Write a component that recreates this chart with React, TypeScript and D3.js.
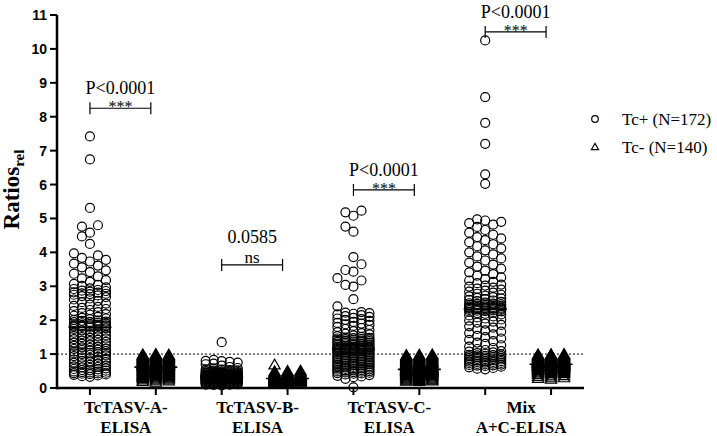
import React from "react";
import * as d3 from "d3";

// ---------- data ----------
const columns = ["A+", "A-", "B+", "B-", "C+", "C-", "M+", "M-"];
const groupLabels = [
  ["TcTASV-A-", "ELISA"],
  ["TcTASV-B-", "ELISA"],
  ["TcTASV-C-", "ELISA"],
  ["Mix", "A+C-ELISA"],
];
const legendLabels = ["Tc+ (N=172)", "Tc- (N=140)"];
const yTicks = [0, 1, 2, 3, 4, 5, 6, 7, 8, 9, 10, 11];
const pLabels = ["P<0.0001", "0.0585", "P<0.0001", "P<0.0001"];
const sigLabels = ["***", "ns", "***", "***"];
const bracketLevels = [8.25, 3.63, 5.84, 10.5];
const cutoff = 1;

const tcPosA = [
  7.42, 6.74, 5.31, 4.8, 4.76, 4.58, 4.47, 4.25,
  3.97, 3.91, 3.84, 3.78, 3.73, 3.67, 3.61, 3.56, 3.47, 3.42, 3.37, 3.29, 3.23, 3.18, 3.13, 3.07, 3.04, 3.01,
  2.97, 2.94, 2.92, 2.89, 2.87, 2.86, 2.84, 2.82, 2.81, 2.79, 2.78, 2.77, 2.75, 2.73, 2.71, 2.68, 2.64, 2.61,
  2.57, 2.53, 2.49, 2.46, 2.42, 2.39, 2.36, 2.33, 2.3, 2.27, 2.24, 2.21, 2.18, 2.16, 2.13, 2.1, 2.07, 2.05, 2.03, 2.01,
  1.99, 1.98, 1.96, 1.95, 1.94, 1.93, 1.91, 1.9, 1.89, 1.88, 1.87, 1.86, 1.85, 1.85, 1.84, 1.83, 1.83, 1.82, 1.82, 1.81, 1.81, 1.8,
  1.78, 1.76, 1.74, 1.72, 1.7, 1.68, 1.66, 1.63, 1.61, 1.59, 1.57, 1.55, 1.53, 1.52, 1.5,
  1.48, 1.46, 1.44, 1.42, 1.4, 1.38, 1.36, 1.34, 1.32, 1.3, 1.28, 1.26, 1.24, 1.22, 1.2, 1.18, 1.16, 1.15, 1.13, 1.12,
  1.1, 1.09, 1.07, 1.06, 1.05, 1.04, 1.03, 1.02, 1.01, 1.0,
  0.98, 0.96, 0.94, 0.92, 0.9, 0.88, 0.86, 0.84, 0.82, 0.8, 0.78, 0.76, 0.74, 0.72, 0.7, 0.68, 0.66, 0.64, 0.62, 0.61,
  0.59, 0.58, 0.56, 0.55, 0.53, 0.52, 0.51, 0.49, 0.48, 0.47, 0.46, 0.45, 0.44, 0.43, 0.42, 0.41, 0.4, 0.39, 0.37, 0.35, 0.33,
];
const tcNegA = [
  0.97, 0.96, 0.95, 0.95, 0.94, 0.93, 0.93, 0.92, 0.91, 0.91, 0.9, 0.9,
  0.89, 0.89, 0.88, 0.87, 0.87, 0.86, 0.85, 0.85, 0.84, 0.83, 0.83, 0.82, 0.81, 0.81, 0.8,
  0.79, 0.79, 0.78, 0.77, 0.77, 0.76, 0.75, 0.75, 0.74, 0.73, 0.73, 0.72, 0.71, 0.71, 0.7, 0.7,
  0.69, 0.69, 0.69, 0.68, 0.68, 0.68, 0.67, 0.67, 0.67, 0.66, 0.66, 0.66, 0.65, 0.65, 0.65, 0.64, 0.64, 0.64,
  0.63, 0.63, 0.63, 0.63, 0.62, 0.62, 0.62, 0.62, 0.62,
  0.61, 0.61, 0.6, 0.6, 0.59, 0.59, 0.58, 0.58, 0.57, 0.57, 0.56, 0.56, 0.55, 0.55, 0.54, 0.54, 0.53, 0.53, 0.52, 0.52,
  0.51, 0.51, 0.5, 0.5, 0.49, 0.49, 0.48, 0.48, 0.47, 0.47, 0.46, 0.46, 0.45, 0.45, 0.44, 0.44, 0.43, 0.43, 0.42, 0.42,
  0.41, 0.41, 0.4, 0.4, 0.39, 0.39, 0.38, 0.37, 0.37, 0.36, 0.35, 0.35, 0.34, 0.33, 0.33, 0.32, 0.31, 0.31, 0.3,
  0.29, 0.28, 0.27, 0.26, 0.25, 0.24, 0.22, 0.21, 0.19, 0.17, 0.15,
];
const tcPosB = [
  1.35, 0.83, 0.8, 0.79, 0.77, 0.75, 0.72, 0.7, 0.66, 0.62, 0.59, 0.57, 0.55, 0.54, 0.53, 0.52, 0.51, 0.5, 0.49, 0.48,
  0.47, 0.47, 0.46, 0.46, 0.45, 0.45, 0.44, 0.44, 0.43, 0.43, 0.42, 0.42, 0.41, 0.41, 0.4, 0.4, 0.4, 0.39, 0.39, 0.39, 0.38, 0.38, 0.38, 0.38,
  0.37, 0.37, 0.37, 0.37, 0.37, 0.36, 0.36, 0.36, 0.36, 0.36, 0.35, 0.35, 0.35, 0.35, 0.35, 0.35,
  0.34, 0.34, 0.34, 0.34, 0.34, 0.34, 0.34, 0.33, 0.33, 0.33, 0.33, 0.33, 0.33, 0.33, 0.33, 0.33, 0.33,
  0.32, 0.32, 0.32, 0.32, 0.32, 0.32, 0.32, 0.32, 0.32,
  0.31, 0.31, 0.31, 0.31, 0.31, 0.31, 0.3, 0.3, 0.3, 0.3, 0.3, 0.3, 0.29, 0.29, 0.29, 0.29, 0.29, 0.29, 0.29,
  0.28, 0.28, 0.28, 0.28, 0.28, 0.28, 0.28, 0.27, 0.27, 0.27, 0.27, 0.27, 0.27, 0.26, 0.26, 0.26, 0.26, 0.26, 0.26,
  0.25, 0.25, 0.25, 0.25, 0.25, 0.25, 0.24, 0.24, 0.24, 0.23, 0.23, 0.23, 0.22, 0.22, 0.22, 0.21, 0.21, 0.21,
  0.2, 0.2, 0.2, 0.19, 0.19, 0.19, 0.18, 0.18, 0.18, 0.17, 0.17, 0.17, 0.16, 0.16, 0.16, 0.15, 0.15, 0.15,
  0.14, 0.14, 0.13, 0.13, 0.12, 0.12, 0.11, 0.11, 0.1, 0.1, 0.09, 0.08,
];
const tcNegB = [
  0.66, 0.48, 0.47, 0.46, 0.45, 0.44, 0.43, 0.42, 0.41, 0.4,
  0.39, 0.39, 0.38, 0.38, 0.37, 0.37, 0.36, 0.36, 0.35, 0.35, 0.35, 0.34, 0.34, 0.34,
  0.33, 0.33, 0.33, 0.33, 0.32, 0.32, 0.32, 0.32, 0.31, 0.31, 0.31, 0.31, 0.31, 0.31,
  0.3, 0.3, 0.3, 0.3, 0.3, 0.3, 0.3, 0.3, 0.29, 0.29, 0.29, 0.29, 0.29, 0.29, 0.29, 0.29, 0.29, 0.29,
  0.28, 0.28, 0.28, 0.28, 0.28, 0.28, 0.28, 0.28, 0.28, 0.28, 0.28, 0.28, 0.28, 0.28,
  0.28, 0.28, 0.28, 0.28, 0.28, 0.28, 0.27, 0.27, 0.27, 0.27, 0.27, 0.27, 0.27, 0.27,
  0.26, 0.26, 0.26, 0.26, 0.26, 0.26, 0.26, 0.26, 0.25, 0.25, 0.25, 0.25, 0.25, 0.25, 0.25,
  0.24, 0.24, 0.24, 0.24, 0.24, 0.24, 0.23, 0.23, 0.23, 0.23, 0.23, 0.22, 0.22, 0.22, 0.22, 0.22,
  0.21, 0.21, 0.21, 0.21, 0.2, 0.2, 0.2, 0.2, 0.19, 0.19, 0.19, 0.18, 0.18, 0.18,
  0.17, 0.17, 0.16, 0.16, 0.15, 0.15, 0.14, 0.13, 0.12, 0.11, 0.1,
];
const tcPosC = [
  5.23, 5.18, 5.08, 4.76, 4.61, 3.86, 3.65, 3.48, 3.43, 3.24, 3.17, 3.04, 2.99, 2.62, 2.41,
  2.24, 2.22, 2.21, 2.19, 2.17, 2.15, 2.12, 2.1, 2.07, 2.05, 2.03, 2.01,
  1.98, 1.95, 1.92, 1.9, 1.88, 1.86, 1.83, 1.8, 1.77, 1.74, 1.71, 1.68, 1.65, 1.62, 1.6, 1.58, 1.55, 1.53, 1.51,
  1.49, 1.48, 1.47, 1.46, 1.45, 1.44, 1.43, 1.42, 1.41, 1.4, 1.39, 1.38, 1.37, 1.36, 1.35, 1.34, 1.33, 1.32, 1.31, 1.3,
  1.29, 1.28, 1.27, 1.26, 1.25, 1.24, 1.23, 1.22, 1.21, 1.2, 1.2, 1.19, 1.19, 1.18, 1.18, 1.17, 1.17, 1.16, 1.16, 1.15,
  1.15, 1.14, 1.14, 1.13, 1.13, 1.12, 1.12, 1.11, 1.11, 1.1, 1.1, 1.09, 1.08, 1.07, 1.06, 1.05, 1.04, 1.03, 1.02, 1.01, 1.0,
  0.99, 0.98, 0.97, 0.96, 0.95, 0.94, 0.93, 0.92, 0.91, 0.9, 0.89, 0.88, 0.87, 0.86, 0.85, 0.84, 0.83, 0.82, 0.81, 0.8,
  0.79, 0.78, 0.77, 0.76, 0.75, 0.74, 0.73, 0.72, 0.71, 0.7, 0.69, 0.68, 0.67, 0.66, 0.65, 0.64, 0.63, 0.62, 0.61, 0.6,
  0.59, 0.58, 0.57, 0.56, 0.55, 0.54, 0.53, 0.52, 0.51, 0.5, 0.49, 0.48, 0.47, 0.46, 0.45, 0.44, 0.43, 0.42, 0.4, 0.38,
  0.36, 0.34, 0.32, 0.27, 0.02,
];
const tcNegC = [
  0.96, 0.95, 0.94, 0.93, 0.92, 0.91, 0.9, 0.89, 0.88, 0.87,
  0.86, 0.85, 0.84, 0.83, 0.82, 0.81, 0.8, 0.79, 0.78, 0.77, 0.76,
  0.75, 0.75, 0.74, 0.74, 0.73, 0.73, 0.72, 0.72, 0.71, 0.71, 0.7, 0.7, 0.69, 0.69, 0.68, 0.68, 0.67, 0.67, 0.66, 0.66,
  0.65, 0.65, 0.64, 0.64, 0.63, 0.63, 0.62, 0.62, 0.61, 0.61, 0.6, 0.6, 0.59, 0.59, 0.58, 0.58, 0.57, 0.57, 0.56, 0.56,
  0.55, 0.55, 0.55, 0.55, 0.55, 0.55, 0.55, 0.55, 0.55, 0.55, 0.55,
  0.54, 0.54, 0.54, 0.53, 0.53, 0.53, 0.52, 0.52, 0.52, 0.51, 0.51, 0.51, 0.5, 0.5, 0.5,
  0.49, 0.49, 0.49, 0.48, 0.48, 0.48, 0.47, 0.47, 0.47, 0.46, 0.46, 0.46, 0.45, 0.45, 0.45,
  0.44, 0.44, 0.43, 0.43, 0.42, 0.42, 0.41, 0.41, 0.4, 0.4, 0.39, 0.39, 0.38, 0.38, 0.37, 0.37, 0.36, 0.36, 0.35, 0.35,
  0.34, 0.33, 0.32, 0.31, 0.3, 0.29, 0.28, 0.27, 0.26, 0.25, 0.24, 0.23, 0.22, 0.21, 0.2, 0.19, 0.18, 0.17,
];
const tcPosM = [
  10.25, 8.58, 7.82, 7.2, 6.3, 6.02,
  4.97, 4.94, 4.9, 4.86, 4.82, 4.75, 4.66, 4.58, 4.52,
  4.45, 4.41, 4.36, 4.3, 4.24, 4.18, 4.12, 4.06, 4.0, 3.94, 3.88, 3.82, 3.76, 3.7, 3.64, 3.58, 3.52,
  3.46, 3.41, 3.36, 3.31, 3.26, 3.21, 3.17, 3.13, 3.09, 3.05, 3.02, 2.99, 2.96, 2.93, 2.9, 2.87, 2.84, 2.81,
  2.78, 2.75, 2.72, 2.7, 2.68, 2.66, 2.64, 2.62, 2.6, 2.58, 2.56, 2.54, 2.52, 2.5, 2.49, 2.48, 2.47, 2.46,
  2.45, 2.44, 2.43, 2.42, 2.41, 2.4, 2.39, 2.38, 2.37, 2.37, 2.36, 2.36, 2.35, 2.35, 2.34, 2.34, 2.33, 2.33,
  2.32, 2.31, 2.3, 2.29, 2.28, 2.27, 2.26, 2.25, 2.23, 2.21, 2.19, 2.17, 2.14, 2.11, 2.08, 2.05, 2.02, 1.99,
  1.96, 1.93, 1.9, 1.86, 1.82, 1.78, 1.74, 1.7, 1.66, 1.62, 1.58, 1.54,
  1.5, 1.46, 1.42, 1.38, 1.34, 1.3, 1.26, 1.22, 1.18, 1.15, 1.12, 1.09, 1.07, 1.05, 1.03, 1.01,
  0.99, 0.98, 0.97, 0.96, 0.95, 0.94, 0.93, 0.92, 0.91, 0.9, 0.89, 0.88, 0.87, 0.86, 0.85, 0.84, 0.83, 0.82, 0.81, 0.8,
  0.79, 0.78, 0.77, 0.76, 0.75, 0.74, 0.73, 0.72, 0.71, 0.7, 0.69, 0.68, 0.67, 0.66, 0.65, 0.63, 0.61, 0.59, 0.57, 0.55,
];
const tcNegM = [
  0.97, 0.96, 0.96, 0.95, 0.95, 0.94, 0.94, 0.93, 0.93, 0.92, 0.92, 0.91, 0.91, 0.9, 0.9,
  0.89, 0.89, 0.88, 0.88, 0.87, 0.87, 0.86, 0.86, 0.85, 0.85, 0.84, 0.84, 0.83, 0.83, 0.82, 0.82, 0.81, 0.81, 0.8, 0.8,
  0.79, 0.79, 0.79, 0.78, 0.78, 0.78, 0.77, 0.77, 0.77, 0.76, 0.76, 0.76, 0.75, 0.75, 0.75,
  0.74, 0.74, 0.74, 0.74, 0.73, 0.73, 0.73, 0.73, 0.72, 0.72, 0.72, 0.72, 0.71, 0.71, 0.71, 0.71,
  0.7, 0.7, 0.7, 0.7, 0.7, 0.7,
  0.69, 0.69, 0.69, 0.68, 0.68, 0.68, 0.67, 0.67, 0.67, 0.66, 0.66, 0.66, 0.65, 0.65, 0.65,
  0.64, 0.64, 0.64, 0.63, 0.63, 0.63, 0.62, 0.62, 0.62, 0.61, 0.61, 0.61, 0.6, 0.6, 0.6,
  0.59, 0.59, 0.58, 0.58, 0.57, 0.57, 0.56, 0.56, 0.55, 0.55, 0.54, 0.54, 0.53, 0.53, 0.52, 0.52, 0.51, 0.51, 0.5, 0.5,
  0.49, 0.48, 0.47, 0.46, 0.45, 0.44, 0.43, 0.42, 0.41, 0.4,
  0.38, 0.36, 0.34, 0.32, 0.3, 0.28, 0.26, 0.24,
];

const seriesValues = [tcPosA, tcNegA, tcPosB, tcNegB, tcPosC, tcNegC, tcPosM, tcNegM];

// ---------- layout ----------
const W = 717;
const H = 436;
const left = 57;
const right = 584;
const top = 15;
const bottom = 388;

const x = d3.scaleBand<string>().domain(columns).range([left, right]).padding(0);
const y = d3.scaleLinear().domain([0, 11]).range([bottom, top]);
const cx = (i: number) => (x(columns[i]) as number) + x.bandwidth() / 2;

const serif = "'Times New Roman', 'Liberation Serif', serif";
const sans = "Arial, 'Liberation Sans', sans-serif";

function swarm(values: number[], center: number, slotW: number, nSlots: number, minD: number) {
  const sorted = values.slice().sort((a, b) => a - b);
  const offsets: number[] = [0];
  for (let k = 1; offsets.length < nSlots; k++) {
    offsets.push(-k * slotW);
    if (offsets.length < nSlots) offsets.push(k * slotW);
  }
  const lastY = offsets.map(() => Infinity);
  return sorted.map((v) => {
    const py = y(v);
    let chosen = -1;
    for (let s = 0; s < offsets.length; s++) {
      if (lastY[s] === Infinity || lastY[s] - py >= minD) {
        chosen = s;
        break;
      }
    }
    if (chosen < 0) {
      let best = -Infinity;
      offsets.forEach((_, s) => {
        const gap = lastY[s] - py;
        if (gap > best + 0.01) {
          best = gap;
          chosen = s;
        }
      });
    }
    lastY[chosen] = py;
    return { x: center + offsets[chosen], y: py, v };
  });
}

const triPath = d3.symbol().type(d3.symbolTriangle).size(55)() as string;
const triLegend = d3.symbol().type(d3.symbolTriangle).size(22)() as string;

export default function App() {
  return (
    <div style={{ width: W, height: H, position: "absolute", left: 0, top: 0, background: "#fff" }}>
      <svg width={W} height={H} style={{ display: "block" }}>
        <rect width={W} height={H} fill="#fff" />

        {/* cutoff dotted line */}
        <line x1={left} x2={right} y1={y(cutoff)} y2={y(cutoff)} stroke="#000" strokeWidth={1} strokeDasharray="2,2" />

        {/* points */}
        {seriesValues.map((vals, i) => {
          const isPos = i % 2 === 0;
          const pts = isPos ? swarm(vals, cx(i), 8, 5, 9) : swarm(vals, cx(i), 13, 3, 9.5);
          return (
            <g key={columns[i]}>
              {pts.map((p, j) =>
                isPos ? (
                  <circle key={j} cx={p.x} cy={p.y} r={4.5} fill="none" stroke="#000" strokeWidth={1.2} />
                ) : (
                  <path key={j} d={triPath} transform={`translate(${p.x},${p.y})`} fill="none" stroke="#000" strokeWidth={1.2} />
                )
              )}
            </g>
          );
        })}

        {/* medians */}
        {seriesValues.map((vals, i) => {
          const m = d3.median(vals) as number;
          return <line key={"m" + i} x1={cx(i) - 21.5} x2={cx(i) + 21.5} y1={y(m)} y2={y(m)} stroke="#000" strokeWidth={1.6} />;
        })}

        {/* axes */}
        <line x1={left} x2={left} y1={top} y2={bottom + 1.25} stroke="#000" strokeWidth={2.5} />
        <line x1={left - 1.25} x2={right} y1={bottom} y2={bottom} stroke="#000" strokeWidth={2.5} />
        {yTicks.map((t) => (
          <g key={"yt" + t}>
            <line x1={left - 7} x2={left} y1={y(t)} y2={y(t)} stroke="#000" strokeWidth={2} />
            <text x={left - 10} y={y(t)} dy="0.36em" textAnchor="end" fontFamily={sans} fontWeight="bold" fontSize={14}>
              {t}
            </text>
          </g>
        ))}
        {columns.map((c, i) => (
          <line key={"xt" + c} x1={cx(i)} x2={cx(i)} y1={bottom} y2={bottom + 7} stroke="#000" strokeWidth={2} />
        ))}

        {/* x labels */}
        {groupLabels.map((lines, g) => {
          const mid = (cx(2 * g) + cx(2 * g + 1)) / 2 + 3;
          return (
            <text key={"gl" + g} textAnchor="middle" fontFamily={serif} fontWeight="bold" fontSize={17}>
              <tspan x={mid} y={413}>{lines[0]}</tspan>
              <tspan x={mid} y={433}>{lines[1]}</tspan>
            </text>
          );
        })}

        {/* y label */}
        <text transform={`translate(19, ${(top + bottom) / 2 - 12}) rotate(-90)`} textAnchor="middle" fontFamily={serif} fontWeight="bold" fontSize={23}>
          Ratios
          <tspan fontSize={15} dy={5}>rel</tspan>
        </text>

        {/* significance brackets */}
        {bracketLevels.map((lv, g) => {
          const x1 = cx(2 * g);
          const x2 = cx(2 * g + 1) - 5;
          const by = y(lv);
          const mid = (x1 + x2) / 2;
          const isNs = sigLabels[g] === "ns";
          return (
            <g key={"br" + g}>
              <line x1={x1} x2={x2} y1={by} y2={by} stroke="#000" strokeWidth={1.2} />
              <line x1={x1} x2={x1} y1={by - 6} y2={by + 6} stroke="#000" strokeWidth={1.2} />
              <line x1={x2} x2={x2} y1={by - 6} y2={by + 6} stroke="#000" strokeWidth={1.2} />
              <text x={mid} y={isNs ? by - 22 : by - 14} textAnchor="middle" fontFamily={serif} fontSize={18}>
                {pLabels[g]}
              </text>
              <text x={mid} y={isNs ? by - 2 : by + 4} textAnchor="middle" fontFamily={serif} fontSize={isNs ? 17 : 16}>
                {sigLabels[g]}
              </text>
            </g>
          );
        })}

        {/* legend */}
        <circle cx={595} cy={119} r={3.3} fill="none" stroke="#000" strokeWidth={1.2} />
        <path d={triLegend} transform="translate(595,147.5)" fill="none" stroke="#000" strokeWidth={1.2} />
        <text x={622} y={125} fontFamily={serif} fontSize={17}>{legendLabels[0]}</text>
        <text x={622} y={153} fontFamily={serif} fontSize={17}>{legendLabels[1]}</text>
      </svg>
    </div>
  );
}
